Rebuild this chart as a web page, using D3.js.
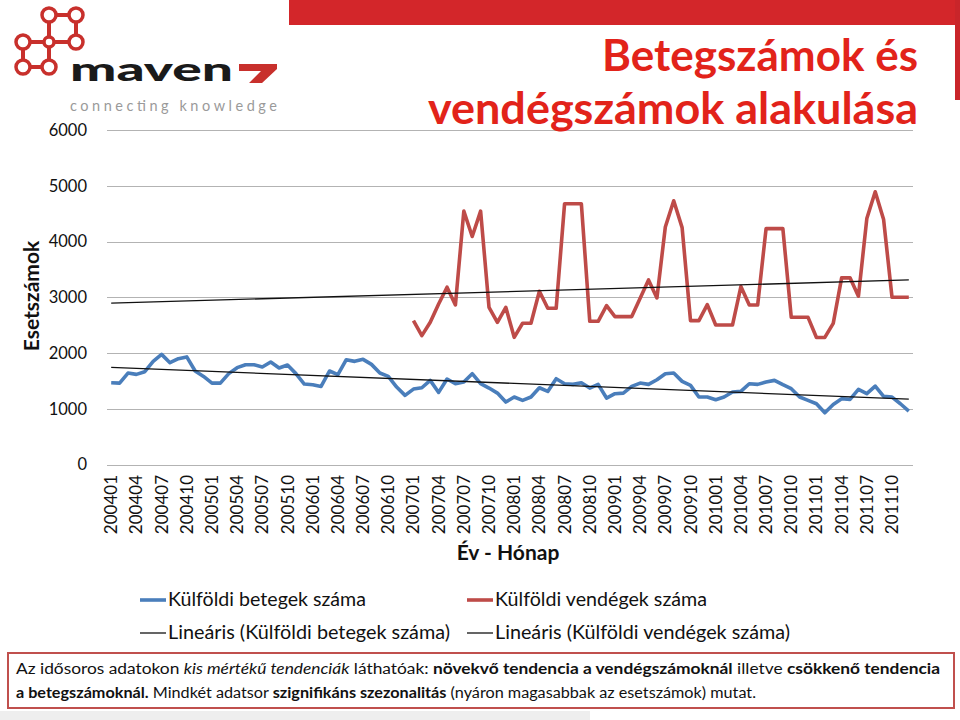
<!DOCTYPE html>
<html>
<head>
<meta charset="utf-8">
<script src="https://cdn.jsdelivr.net/npm/d3@7"></script>
<style>
  html, body { margin: 0; padding: 0; background: #fff; }
  svg { display: block; font-family: Lato, "Open Sans", sans-serif; }
</style>
</head>
<body>
<svg id="chart" width="960" height="720"></svg>
<script>
// ---------------- DATA ----------------
const months = [];
for (let y = 2004; y <= 2011; y++) for (let m = 1; m <= 12; m++) months.push(String(y) + String(m).padStart(2, "0"));

const betegek = [
  1467, 1460, 1640, 1617, 1665, 1850, 1975, 1826, 1898, 1930, 1677, 1580,
  1460, 1460, 1630, 1737, 1790, 1790, 1750, 1838, 1730, 1785, 1630, 1443,
  1431, 1401, 1677, 1611, 1880, 1850, 1886, 1796, 1641, 1581, 1389, 1240,
  1353, 1377, 1509, 1293, 1533, 1449, 1479, 1629, 1449, 1371, 1281, 1120,
  1210, 1150, 1210, 1377, 1311, 1539, 1449, 1437, 1467, 1371, 1437, 1192,
  1270, 1281, 1401, 1461, 1437, 1521, 1629, 1641, 1491, 1419, 1210, 1210,
  1162, 1210, 1300, 1311, 1449, 1437, 1479, 1509, 1431, 1359, 1210, 1150,
  1090, 928, 1078, 1180, 1168, 1347, 1270, 1407, 1222, 1210, 1090, 958
];

const vendegek = [
  null, null, null, null, null, null, null, null, null, null, null, null,
  null, null, null, null, null, null, null, null, null, null, null, null,
  null, null, null, null, null, null, null, null, null, null, null, null,
  2581, 2311, 2551, 2880, 3180, 2862, 4545, 4090, 4545, 2820, 2551, 2820,
  2281, 2533, 2533, 3108, 2802, 2802, 4677, 4677, 4677, 2569, 2569, 2850,
  2653, 2653, 2653, 2982, 3311, 2988, 4261, 4730, 4249, 2580, 2580, 2868,
  2502, 2502, 2502, 3192, 2862, 2862, 4231, 4231, 4231, 2640, 2640, 2640,
  2279, 2279, 2532, 3348, 3348, 3018, 4411, 4892, 4393, 3000, 3000, 3000
];

const yTicks = [0, 1000, 2000, 3000, 4000, 5000, 6000];
const xTickLabels = months.filter((d, i) => i % 3 === 0);

const seriesNames = ["Külföldi betegek száma", "Külföldi vendégek száma"];
const trendNames = ["Lineáris (Külföldi betegek száma)", "Lineáris (Külföldi vendégek száma)"];

// ---------------- SETUP ----------------
const svg = d3.select("#chart");
const BLUE = "#4a7ebb", RED = "#be4b48", TITLE_RED = "#e2231a";

const x = d3.scalePoint().domain(months).range([107, 913]).padding(0.5);
const y = d3.scaleLinear().domain([0, 6000]).range([464.5, 130]);

// gridlines
svg.append("g").selectAll("line").data(yTicks).join("line")
  .attr("x1", 107).attr("x2", 913)
  .attr("y1", d => Math.round(y(d)) + 0.5).attr("y2", d => Math.round(y(d)) + 0.5)
  .attr("stroke", "#b3b3b3").attr("stroke-width", 1.2);

// y tick labels
svg.append("g").selectAll("text").data(yTicks).join("text")
  .attr("x", 87).attr("y", d => y(d)).attr("dy", "0.35em")
  .attr("text-anchor", "end").attr("font-size", 16.5).attr("fill", "#111")
  .text(d => d);

// y axis title
svg.append("text")
  .attr("transform", "translate(39,296) rotate(-90)")
  .attr("text-anchor", "middle").attr("font-size", 21).attr("font-weight", 700)
  .attr("fill", "#111")
  .text("Esetszámok");

// x tick labels
svg.append("g").selectAll("text").data(xTickLabels).join("text")
  .attr("transform", d => `translate(${x(d) + 6},475) rotate(-90)`)
  .attr("text-anchor", "end").attr("font-size", 17).attr("fill", "#111")
  .text(d => d);

// x axis title
svg.append("text")
  .attr("x", 508).attr("y", 560).attr("text-anchor", "middle")
  .attr("font-size", 21).attr("font-weight", 700).attr("fill", "#111")
  .text("Év - Hónap");

// linear regression helper
function regression(values) {
  const pts = values.map((v, i) => [i, v]).filter(p => p[1] != null);
  const mx = d3.mean(pts, p => p[0]), my = d3.mean(pts, p => p[1]);
  const sxy = d3.sum(pts, p => (p[0] - mx) * (p[1] - my));
  const sxx = d3.sum(pts, p => (p[0] - mx) ** 2);
  const b = sxy / sxx, a = my - b * mx;
  return i => a + b * i;
}

const line = d3.line()
  .defined(d => d.v != null)
  .x(d => x(d.m)).y(d => y(d.v));

const seriesData = [betegek, vendegek];
const colors = [BLUE, RED];

seriesData.forEach((vals, k) => {
  svg.append("path")
    .datum(vals.map((v, i) => ({ m: months[i], v })))
    .attr("d", line)
    .attr("fill", "none").attr("stroke", colors[k])
    .attr("stroke-width", 3.6).attr("stroke-linejoin", "round");
});

// trend lines drawn across the full category range
seriesData.forEach(vals => {
  const f = regression(vals);
  const ends = [0, months.length - 1].map(i => ({ m: months[i], v: f(i) }));
  svg.append("path").datum(ends).attr("d", line)
    .attr("fill", "none").attr("stroke", "#111").attr("stroke-width", 1.3);
});

// legend
const legend = [
  { name: seriesNames[0], color: BLUE, w: 3.6, x: 140, y: 600, len: 198 },
  { name: seriesNames[1], color: RED, w: 3.6, x: 467, y: 600, len: 212 },
  { name: trendNames[0], color: "#111", w: 1.3, x: 140, y: 633, len: 282 },
  { name: trendNames[1], color: "#111", w: 1.3, x: 467, y: 633, len: 295 }
];
const lg = svg.append("g").selectAll("g").data(legend).join("g");
lg.append("line")
  .attr("x1", d => d.x).attr("x2", d => d.x + 26)
  .attr("y1", d => d.y).attr("y2", d => d.y)
  .attr("stroke", d => d.color).attr("stroke-width", d => d.w);
lg.append("text")
  .attr("x", d => d.x + 28).attr("y", d => d.y).attr("dy", "0.35em")
  .attr("font-size", 18.5).attr("fill", "#111")
  .attr("textLength", d => d.len).attr("lengthAdjust", "spacingAndGlyphs")
  .text(d => d.name);

// ---------------- HEADER ----------------
svg.append("rect").attr("x", 289).attr("y", 0).attr("width", 671).attr("height", 25).attr("fill", "#d3262a");
svg.append("rect").attr("x", 955).attr("y", 0).attr("width", 5).attr("height", 100).attr("fill", "#c9252a");

const title = svg.append("g").attr("fill", TITLE_RED).attr("font-weight", 700).attr("font-size", 44).attr("text-anchor", "end");
title.append("text").attr("x", 918).attr("y", 71).attr("textLength", 316).attr("lengthAdjust", "spacingAndGlyphs").text("Betegszámok és");
title.append("text").attr("x", 918).attr("y", 124).attr("textLength", 490).attr("lengthAdjust", "spacingAndGlyphs").text("vendégszámok alakulása");

// logo
const logo = svg.append("g");
const nodes = [[49, 15], [76, 15], [23, 42], [49, 42], [76, 42], [23, 67], [49, 67]];
const links = [[0, 1], [0, 3], [1, 4], [2, 3], [3, 4], [2, 5], [5, 6], [3, 6]];
logo.selectAll("line").data(links).join("line")
  .attr("x1", d => nodes[d[0]][0]).attr("y1", d => nodes[d[0]][1])
  .attr("x2", d => nodes[d[1]][0]).attr("y2", d => nodes[d[1]][1])
  .attr("stroke", "#c8302c").attr("stroke-width", 4);
logo.selectAll("circle").data(nodes).join("circle")
  .attr("cx", d => d[0]).attr("cy", d => d[1]).attr("r", (d, i) => i === 3 ? 5 : 7)
  .attr("fill", "#fff").attr("stroke", "#c8302c").attr("stroke-width", 3.5);
logo.append("text").attr("x", 70).attr("y", 81).attr("font-size", 32).attr("font-weight", 900)
  .attr("fill", "#1a1a1a").attr("textLength", 163).attr("lengthAdjust", "spacingAndGlyphs").text("maven");
logo.append("path").attr("d", "M239,64 H277 V69 L262,83 H249 L261,71 H239 Z").attr("fill", "#c8302c");
logo.append("text").attr("x", 70).attr("y", 111).attr("font-size", 14.5)
  .attr("fill", "#9a9a9a").attr("textLength", 207).attr("lengthAdjust", "spacing").text("connecting knowledge");

// ---------------- NOTE BOX ----------------
svg.append("rect").attr("x", 0).attr("y", 711).attr("width", 590).attr("height", 9).attr("fill", "#eeeeee");
svg.append("rect").attr("x", 8).attr("y", 653).attr("width", 946).attr("height", 55)
  .attr("fill", "#fff").attr("stroke", "#c0504d").attr("stroke-width", 2);

const note1 = svg.append("text").attr("x", 16).attr("y", 674).attr("font-size", 15.5).attr("fill", "#111")
  .attr("textLength", 924).attr("lengthAdjust", "spacingAndGlyphs");
[["Az idősoros adatokon ", ""], ["kis mértékű tendenciák", "i"], [" láthatóak: ", ""],
 ["növekvő tendencia a vendégszámoknál", "b"], [" illetve ", ""], ["csökkenő tendencia", "b"]]
  .forEach(([t, s]) => note1.append("tspan").text(t)
    .attr("font-style", s === "i" ? "italic" : null).attr("font-weight", s === "b" ? 700 : null));
const note2 = svg.append("text").attr("x", 16).attr("y", 698).attr("font-size", 15.5).attr("fill", "#111")
  .attr("textLength", 740).attr("lengthAdjust", "spacingAndGlyphs");
[["a betegszámoknál.", "b"], [" Mindkét adatsor ", ""], ["szignifikáns szezonalitás", "b"],
 [" (nyáron magasabbak az esetszámok) mutat.", ""]]
  .forEach(([t, s]) => note2.append("tspan").text(t)
    .attr("font-weight", s === "b" ? 700 : null));
</script>
</body>
</html>
